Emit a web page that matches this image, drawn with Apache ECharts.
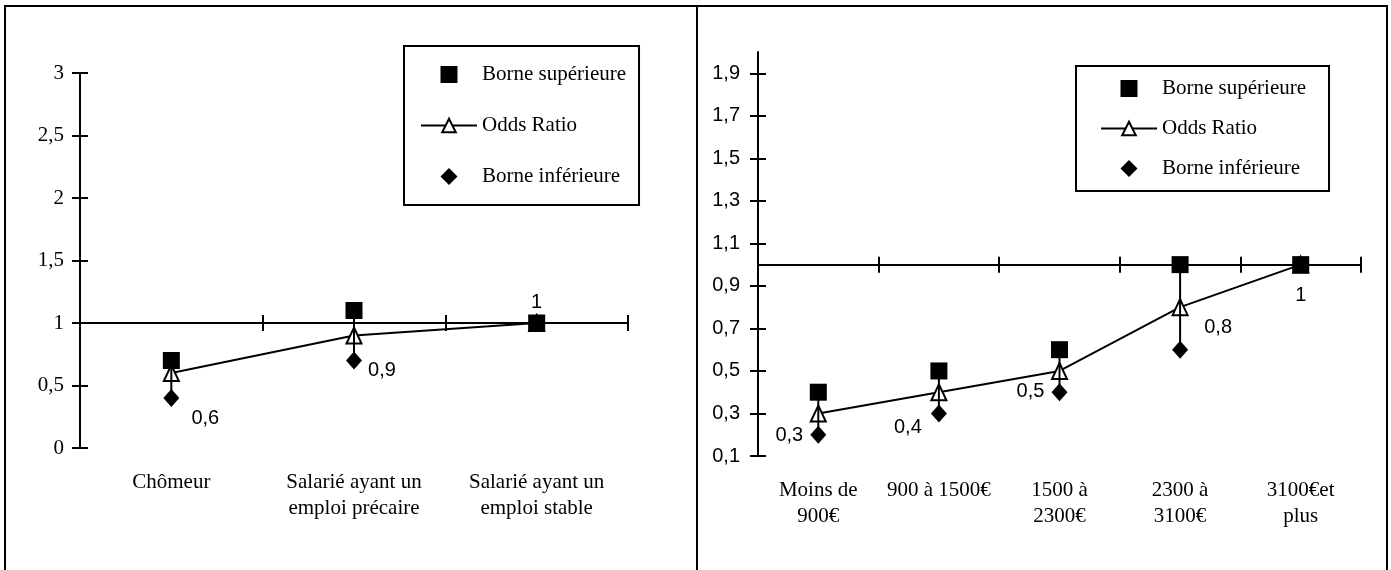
<!DOCTYPE html>
<html>
<head>
<meta charset="utf-8">
<script src="https://cdn.jsdelivr.net/npm/echarts@6/dist/echarts.min.js"></script>
<style>
html,body{margin:0;padding:0;background:#fff;}
#c{width:1391px;height:570px;}
</style>
</head>
<body>
<div id="c"></div>
<script>
// ---- Data: left chart (situation professionnelle)
const catsLeft = ["Chômeur", "Salarié ayant un\nemploi précaire", "Salarié ayant un\nemploi stable"];
const upperLeft = [0.7, 1.1, 1.0];
const oddsLeft = [0.6, 0.9, 1.0];
const lowerLeft = [0.4, 0.7, 1.0];
const yTicksLeft = [0, 0.5, 1, 1.5, 2, 2.5, 3];

// ---- Data: right chart (revenu)
const catsRight = ["Moins de\n900€", "900 à 1500€", "1500 à\n2300€", "2300 à\n3100€", "3100€et\nplus"];
const upperRight = [0.4, 0.5, 0.6, 1.0, 1.0];
const oddsRight = [0.3, 0.4, 0.5, 0.8, 1.0];
const lowerRight = [0.2, 0.3, 0.4, 0.6, 1.0];
const yTicksRight = [0.1, 0.3, 0.5, 0.7, 0.9, 1.1, 1.3, 1.5, 1.7, 1.9];

const refValue = 1;
const legendNames = ["Borne supérieure", "Odds Ratio", "Borne inférieure"];

// ---- Layout / style (not data)
const SERIF = "Liberation Serif";
const SANS = "Liberation Sans";
const gridL = {left: 80, top: 73, width: 548, height: 375};
const gridR = {left: 758, top: 52, width: 603, height: 404};
const yRangeL = [0, 3];
const yRangeR = [0.1, 2.0];
const labelOffsetsLeft = [[34, 45], [28, 35], [0, -21]];
const labelOffsetsRight = [[-29, 22], [-31, 35], [-29, 21], [38, 20], [0, 31]];
const legendIcons = {
  "Borne supérieure": 'path://M0,0L1,0L1,1L0,1Z',
  "Borne inférieure": 'path://M0.5,0L1,0.5L0.5,1L0,0.5Z'
};

const comma = v => String(Math.round(v * 100) / 100).replace('.', ',');

function refOffset(grid, range) {
  return -(refValue - range[0]) / (range[1] - range[0]) * grid.height;
}

function xAxes(gridIndex, cats, grid, range) {
  const off = refOffset(grid, range);
  const base = {type: 'category', gridIndex: gridIndex, data: cats, position: 'bottom'};
  return [
    Object.assign({}, base, {
      axisLine: {show: false, onZero: false},
      axisTick: {show: false},
      axisLabel: {show: true, interval: 0, margin: 21, color: '#000',
        fontFamily: SERIF, fontSize: 21, lineHeight: 26, align: 'center'}
    }),
    Object.assign({}, base, {
      offset: off,
      axisLine: {show: true, onZero: false, lineStyle: {color: '#000', width: 2}},
      axisTick: {show: true, alignWithLabel: false, interval: 0, inside: false, length: 8, lineStyle: {color: '#000', width: 2}},
      axisLabel: {show: false}
    }),
    Object.assign({}, base, {
      offset: off,
      axisLine: {show: false, onZero: false},
      axisTick: {show: true, alignWithLabel: false, interval: 0, inside: true, length: 8, lineStyle: {color: '#000', width: 2}},
      axisLabel: {show: false}
    })
  ];
}

function yAxes(gridIndex, range, ticks, font, fontSize, margin) {
  const base = {type: 'value', gridIndex: gridIndex, min: range[0], max: range[1], position: 'left',
    splitLine: {show: false}};
  return [
    Object.assign({}, base, {
      axisLine: {show: true, onZero: false, lineStyle: {color: '#000', width: 2}},
      axisTick: {show: true, inside: false, length: 8, customValues: ticks, lineStyle: {color: '#000', width: 2}},
      axisLabel: {show: true, customValues: ticks, formatter: comma, margin: margin, color: '#000',
        fontFamily: font, fontSize: fontSize}
    }),
    Object.assign({}, base, {
      axisLine: {show: false, onZero: false},
      axisTick: {show: true, inside: true, length: 8, customValues: ticks, lineStyle: {color: '#000', width: 2}},
      axisLabel: {show: false}
    })
  ];
}

function seriesFor(xi, yi, upper, odds, lower, offsets) {
  return [
    {
      name: "Odds Ratio", type: 'line', xAxisIndex: xi, yAxisIndex: yi,
      data: odds.map((v, i) => ({value: v, label: {offset: offsets[i]}})),
      symbol: 'triangle', symbolSize: [15, 16], z: 2,
      lineStyle: {color: '#000', width: 2},
      itemStyle: {color: '#fff', borderColor: '#000', borderWidth: 2, opacity: 1},
      label: {show: true, position: 'inside', formatter: p => comma(p.value),
        fontFamily: SANS, fontSize: 20, color: '#000', align: 'center', verticalAlign: 'middle'},
      emphasis: {disabled: true}, animation: false
    },
    {
      type: 'custom', xAxisIndex: xi, yAxisIndex: yi, z: 3,
      data: lower.map((v, i) => [i, v, upper[i]]),
      encode: {x: 0, y: [1, 2]},
      renderItem: (params, api) => {
        const i = api.value(0);
        const p1 = api.coord([i, api.value(1)]);
        const p2 = api.coord([i, api.value(2)]);
        return {type: 'line', shape: {x1: p1[0], y1: p1[1], x2: p2[0], y2: p2[1]},
          style: {stroke: '#000', lineWidth: 2}};
      },
      silent: true, animation: false
    },
    {
      name: "Borne supérieure", type: 'scatter', xAxisIndex: xi, yAxisIndex: yi, z: 4,
      data: upper, symbol: 'rect', symbolSize: 17,
      itemStyle: {color: '#000', opacity: 1},
      emphasis: {disabled: true}, animation: false
    },
    {
      name: "Borne inférieure", type: 'scatter', xAxisIndex: xi, yAxisIndex: yi, z: 4,
      data: lower, symbol: 'diamond', symbolSize: [16, 18],
      itemStyle: {color: '#000', opacity: 1},
      emphasis: {disabled: true}, animation: false
    }
  ];
}

function legendAt(left, top, padding, gap) {
  return {
    data: legendNames.map(n => legendIcons[n] ? {name: n, icon: legendIcons[n]} : {name: n}),
    orient: 'vertical', left: left, top: top, padding: padding,
    itemGap: gap, itemWidth: 56, itemHeight: 17, align: 'left', symbolKeepAspect: true,
    borderColor: '#000', borderWidth: 2, backgroundColor: '#fff',
    textStyle: {fontFamily: SERIF, fontSize: 21, color: '#000'},
    selectedMode: false
  };
}

const chart = echarts.init(document.getElementById('c'), null, {renderer: 'canvas'});
chart.setOption({
  backgroundColor: '#fff',
  animation: false,
  grid: [Object.assign({containLabel: false}, gridL), Object.assign({containLabel: false}, gridR)],
  xAxis: xAxes(0, catsLeft, gridL, yRangeL).concat(xAxes(1, catsRight, gridR, yRangeR)),
  yAxis: yAxes(0, yRangeL, yTicksLeft, SERIF, 21, 16).concat(yAxes(1, yRangeR, yTicksRight, SANS, 20, 18)),
  legend: [
    legendAt(404, 46, [18, 13, 18, 16], 30),
    legendAt(1076, 66, [12, 23, 12, 24], 19)
  ],
  series: seriesFor(0, 0, upperLeft, oddsLeft, lowerLeft, labelOffsetsLeft)
    .concat(seriesFor(3, 2, upperRight, oddsRight, lowerRight, labelOffsetsRight)),
  graphic: [
    {type: 'rect', silent: true, shape: {x: 5, y: 6, width: 692, height: 580},
      style: {fill: 'none', stroke: '#000', lineWidth: 2}},
    {type: 'rect', silent: true, shape: {x: 697, y: 6, width: 690, height: 580},
      style: {fill: 'none', stroke: '#000', lineWidth: 2}}
  ]
});
</script>
</body>
</html>
